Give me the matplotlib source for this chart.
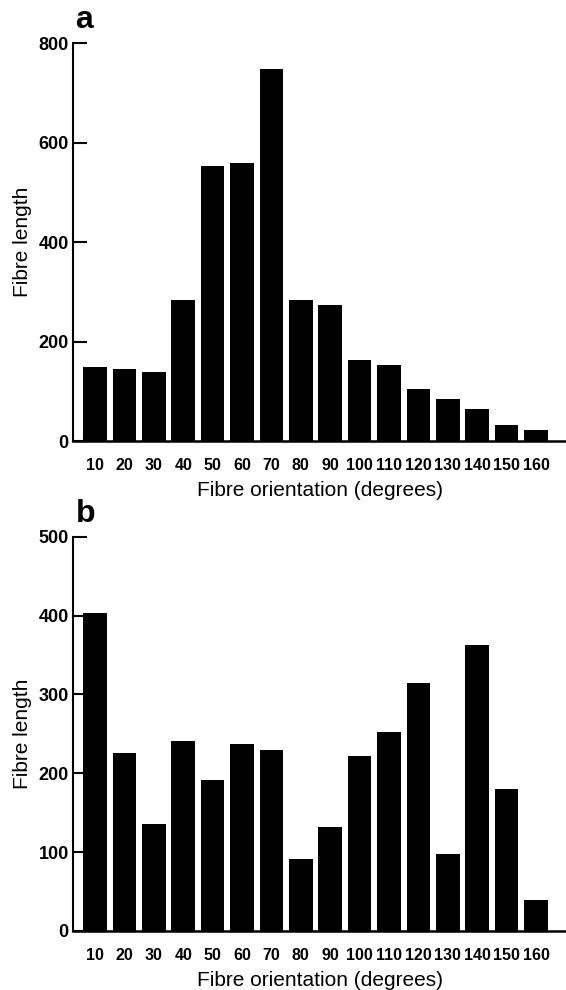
import matplotlib.pyplot as plt

orientation = ['10', '20', '30', '40', '50', '60', '70', '80',
               '90', '100', '110', '120', '130', '140', '150', '160']
length_a = [148, 144, 139, 283, 554, 560, 748, 284,
            273, 162, 152, 105, 84, 64, 32, 22]
length_b = [403, 226, 136, 241, 191, 237, 229, 91,
            132, 222, 252, 315, 97, 363, 180, 39]

plt.rcParams['font.family'] = ['Liberation Sans', 'DejaVu Sans']

fig = plt.figure(figsize=(5.66, 9.9), dpi=100)
ax_a = fig.add_axes([0.129, 0.5545, 0.871, 0.4018])
ax_b = fig.add_axes([0.129, 0.0596, 0.871, 0.3983])


def draw(ax, values, ymax, step, letter):
    x = list(range(len(values)))
    ax.bar(x, values, width=0.8, color='black')
    ax.set_xlim(-0.75, 16.02)
    ax.set_ylim(0, ymax)
    ax.set_yticks(range(0, ymax + 1, step))
    ax.set_xticks(x)
    ax.set_xticklabels(orientation, fontsize=11.5, fontweight='bold')
    ax.tick_params(axis='x', length=0, pad=12)
    ax.tick_params(axis='y', direction='in', length=10, width=1.5,
                   labelsize=13, pad=3)
    for lab in ax.get_yticklabels():
        lab.set_fontweight('bold')
    ax.spines['top'].set_visible(False)
    ax.spines['right'].set_visible(False)
    ax.spines['left'].set_linewidth(1.5)
    ax.spines['bottom'].set_linewidth(1.8)
    ax.set_ylabel('Fibre length', fontsize=15, labelpad=5)
    ax.set_xlabel('Fibre orientation (degrees)', fontsize=15, labelpad=6)
    ax.text(0.005, 1.02, letter, transform=ax.transAxes, fontsize=23,
            fontweight='black', va='bottom', ha='left')


draw(ax_a, length_a, 800, 200, 'a')
draw(ax_b, length_b, 500, 100, 'b')

fig.savefig('out.png', dpi=100)
